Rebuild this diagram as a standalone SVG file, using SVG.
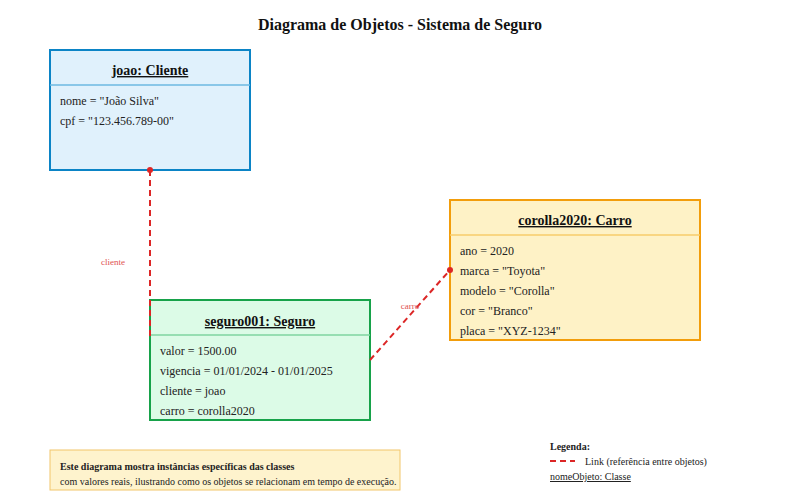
<svg xmlns="http://www.w3.org/2000/svg" width="800" height="500" viewBox="0 0 800 500">
<style>
text{font-family:"Liberation Serif","Times New Roman",serif;fill:#222}
.title{font-size:16px;font-weight:bold;text-anchor:middle;fill:#111}
.oname{font-size:14px;font-weight:bold;text-anchor:middle;text-decoration:underline;fill:#111}
.attr{font-size:12px}
.link{stroke:#dc2626;stroke-width:2;stroke-dasharray:6,4;fill:none}
.dot{fill:#dc2626}
.lbl{font-size:9px;fill:#e05050}
</style>
<rect width="800" height="500" fill="#ffffff"/>
<text class="title" x="400" y="30">Diagrama de Objetos - Sistema de Seguro</text>
<g id="joao">
<rect x="50" y="50" width="200" height="120" fill="#e0f1fc" stroke="#0b84c6" stroke-width="2"/>
<line x1="50" y1="85" x2="250" y2="85" stroke="#6cb8e2" stroke-width="1.5"/>
<text class="oname" x="150" y="75">joao: Cliente</text>
<text class="attr" x="60" y="105">nome = "João Silva"</text>
<text class="attr" x="60" y="125">cpf = "123.456.789-00"</text>
</g>
<g id="seguro001">
<rect x="150" y="300" width="220" height="120" fill="#dcfbe7" stroke="#17a24a" stroke-width="2"/>
<line x1="150" y1="335" x2="370" y2="335" stroke="#7fd4a0" stroke-width="1.5"/>
<text class="oname" x="260" y="326">seguro001: Seguro</text>
<text class="attr" x="160" y="355">valor = 1500.00</text>
<text class="attr" x="160" y="375">vigencia = 01/01/2024 - 01/01/2025</text>
<text class="attr" x="160" y="395">cliente = joao</text>
<text class="attr" x="160" y="415">carro = corolla2020</text>
</g>
<g id="corolla2020">
<rect x="450" y="200" width="250" height="140" fill="#fef2c6" stroke="#f29d0b" stroke-width="2"/>
<line x1="450" y1="235" x2="700" y2="235" stroke="#f7cd6a" stroke-width="1.5"/>
<text class="oname" x="575" y="225">corolla2020: Carro</text>
<text class="attr" x="460" y="255">ano = 2020</text>
<text class="attr" x="460" y="275">marca = "Toyota"</text>
<text class="attr" x="460" y="295">modelo = "Corolla"</text>
<text class="attr" x="460" y="315">cor = "Branco"</text>
<text class="attr" x="460" y="335">placa = "XYZ-1234"</text>
</g>
<g id="connectors">
<line class="link" x1="150" y1="170" x2="150" y2="340"/>
<circle class="dot" cx="150" cy="170" r="3"/>
<text class="lbl" x="113" y="265" text-anchor="middle">cliente</text>
<line class="link" x1="370" y1="360" x2="450" y2="270"/>
<circle class="dot" cx="450" cy="270" r="3"/>
<text class="lbl" x="410" y="309" text-anchor="middle">carro</text>
</g>
<g id="note">
<rect x="50" y="450" width="350" height="40" fill="#fef3cd" stroke="#f2c66a" stroke-width="1"/>
<text x="60" y="470" font-size="10" font-weight="bold" fill="#111">Este diagrama mostra instâncias específicas das classes</text>
<text x="60" y="485" font-size="10">com valores reais, ilustrando como os objetos se relacionam em tempo de execução.</text>
</g>
<g id="legend">
<text x="550" y="450" font-size="10" font-weight="bold" fill="#111">Legenda:</text>
<line class="link" x1="550" y1="461" x2="575" y2="461"/>
<text x="585" y="465" font-size="10">Link (referência entre objetos)</text>
<text x="550" y="480" font-size="10" text-decoration="underline">nomeObjeto: Classe</text>
</g>
</svg>
